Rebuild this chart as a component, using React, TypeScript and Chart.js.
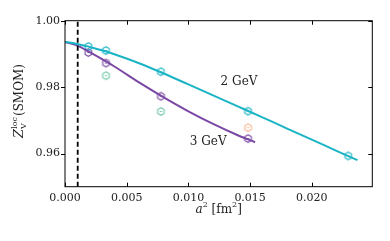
import React, { useEffect, useRef } from "react";
import { Chart, registerables } from "chart.js";

Chart.register(...registerables);

// a^2 values [fm^2]
const a2Values = [0.00189, 0.00332, 0.00777, 0.01483, 0.02295];
// Z_V at 2 GeV
const z2GeV = [0.99222, 0.99102, 0.98464, 0.97275, 0.95928];
// Z_V at 3 GeV
const a2ThreeGeV = [0.00189, 0.00332, 0.00777, 0.01483];
const z3GeV = [0.99042, 0.98725, 0.97725, 0.96449];
// other (lighter) points
const a2Green = [0.00332, 0.00777];
const zGreen = [0.98344, 0.97266];
const a2Orange = [0.01483];
const zOrange = [0.96778];
// fit curves
const fit2X = [0, 0.001, 0.002, 0.003, 0.004, 0.006, 0.008, 0.010, 0.012, 0.014, 0.016, 0.018, 0.020, 0.022, 0.0237];
const fit2Y = [0.9936, 0.9930, 0.9921, 0.9911, 0.9899, 0.9872, 0.9841, 0.9808, 0.9775, 0.9742, 0.9709, 0.9675, 0.9642, 0.9608, 0.9580];
const fit3X = [0, 0.001, 0.002, 0.004, 0.006, 0.008, 0.010, 0.012, 0.014, 0.0154];
const fit3Y = [0.9936, 0.9925, 0.9905, 0.9862, 0.9814, 0.9769, 0.9727, 0.9689, 0.9655, 0.9634];
// dashed vertical line
const dashedX = 0.00103;
// axes
const xTicks = [0, 0.005, 0.01, 0.015, 0.02];
const xTickLabels = ["0.000", "0.005", "0.010", "0.015", "0.020"];
const yTicks = [0.96, 0.98, 1.0];
const yTickLabels = ["0.96", "0.98", "1.00"];
const xMin = 0;
const xMax = 0.0249;
const yMin = 0.95;
const yMax = 1.0;
const labels = [
  { text: "2 GeV", x: 0.0141, y: 0.9815 },
  { text: "3 GeV", x: 0.0116, y: 0.9636 },
];

const CYAN = "#1ab4c5";
const PURPLE = "#7a48a4";
const GREEN = "#72c9a6";
const ORANGE = "#f9b593";
const SERIF = "'DejaVu Serif', 'Liberation Serif', serif";

function hexMarker(color: string): HTMLCanvasElement {
  const c = document.createElement("canvas");
  c.width = 11;
  c.height = 11;
  const ctx = c.getContext("2d")!;
  ctx.strokeStyle = color;
  ctx.lineWidth = 1.1;
  ctx.beginPath();
  const r = 3.8;
  for (let i = 0; i < 6; i++) {
    const ang = Math.PI / 2 + (i * Math.PI) / 3;
    const px = 5.5 + r * Math.cos(ang);
    const py = 5.5 - r * Math.sin(ang);
    if (i === 0) ctx.moveTo(px, py);
    else ctx.lineTo(px, py);
  }
  ctx.closePath();
  ctx.stroke();
  ctx.beginPath();
  ctx.moveTo(4.4, 5.5);
  ctx.lineTo(6.6, 5.5);
  ctx.stroke();
  return c;
}

function pts(xs: number[], ys: number[]) {
  return xs.map((x, i) => ({ x, y: ys[i] }));
}

export default function App() {
  const ref = useRef<HTMLCanvasElement>(null);
  useEffect(() => {
    document.body.style.margin = "0";
    const canvas = ref.current!;
    const decor = {
      id: "decor",
      afterDraw(chart: any) {
        const ctx = chart.ctx;
        const area = chart.chartArea;
        const xs = chart.scales.x;
        const ys = chart.scales.y;
        ctx.save();
        ctx.strokeStyle = "#000";
        ctx.lineWidth = 1;
        ctx.strokeRect(area.left, area.top, area.right - area.left, area.bottom - area.top);
        // ticks
        ctx.beginPath();
        xTicks.forEach((v) => {
          const px = Math.round(xs.getPixelForValue(v)) + 0.5;
          ctx.moveTo(px, area.bottom);
          ctx.lineTo(px, area.bottom - 4);
          ctx.moveTo(px, area.top);
          ctx.lineTo(px, area.top + 4);
        });
        yTicks.forEach((v) => {
          const py = Math.round(ys.getPixelForValue(v)) + 0.5;
          ctx.moveTo(area.left, py);
          ctx.lineTo(area.left - 4, py);
          ctx.moveTo(area.right, py);
          ctx.lineTo(area.right - 4, py);
        });
        ctx.stroke();
        // tick labels
        ctx.fillStyle = "#222";
        ctx.font = `11px ${SERIF}`;
        ctx.textAlign = "center";
        ctx.textBaseline = "top";
        xTicks.forEach((v, i) => {
          ctx.fillText(xTickLabels[i], xs.getPixelForValue(v), area.bottom + 6);
        });
        ctx.textAlign = "right";
        ctx.textBaseline = "middle";
        yTicks.forEach((v, i) => {
          ctx.fillText(yTickLabels[i], area.left - 5, ys.getPixelForValue(v));
        });
        // curve labels
        ctx.font = `12px ${SERIF}`;
        ctx.textAlign = "center";
        labels.forEach((l) => {
          ctx.fillText(l.text, xs.getPixelForValue(l.x), ys.getPixelForValue(l.y));
        });
        // x title: a^2 [fm^2]
        const cx = (area.left + area.right) / 2;
        const ty = 210;
        const parts: [string, string, number][] = [
          ["a", `italic 12px ${SERIF}`, 0],
          ["2", `8px ${SERIF}`, -5],
          [" [fm", `12px ${SERIF}`, 0],
          ["2", `8px ${SERIF}`, -5],
          ["]", `12px ${SERIF}`, 0],
        ];
        let total = 0;
        parts.forEach(([t, f]) => {
          ctx.font = f;
          total += ctx.measureText(t).width;
        });
        let x0 = cx - total / 2;
        ctx.textAlign = "left";
        parts.forEach(([t, f, dy]) => {
          ctx.font = f;
          ctx.fillText(t, x0, ty + dy);
          x0 += ctx.measureText(t).width;
        });
        // y title: Z_V^loc (SMOM)
        ctx.translate(20, 101);
        ctx.rotate(-Math.PI / 2);
        ctx.font = `italic 13px ${SERIF}`;
        const zw = ctx.measureText("Z").width;
        ctx.font = `8px ${SERIF}`;
        const locw = ctx.measureText("loc").width;
        ctx.font = `12px ${SERIF}`;
        const smw = ctx.measureText("(SMOM)").width;
        const tw = zw + locw + 1 + smw;
        let yx = -tw / 2;
        ctx.font = `italic 13px ${SERIF}`;
        ctx.fillText("Z", yx, 0);
        yx += zw;
        ctx.font = `8px ${SERIF}`;
        ctx.fillText("loc", yx, -5);
        ctx.fillText("V", yx, 4);
        yx += locw + 1;
        ctx.font = `12px ${SERIF}`;
        ctx.fillText("(SMOM)", yx, 0);
        ctx.restore();
      },
    };
    const chart = new Chart(canvas, {
      type: "scatter",
      data: {
        datasets: [
          {
            type: "line",
            data: [
              { x: dashedX, y: yMin },
              { x: dashedX, y: yMax },
            ],
            borderColor: "#000",
            borderWidth: 1.8,
            borderDash: [5, 3],
            pointRadius: 0,
            showLine: true,
          } as any,
          {
            type: "line",
            data: pts(fit2X, fit2Y),
            borderColor: CYAN,
            borderWidth: 2,
            pointRadius: 0,
            cubicInterpolationMode: "monotone",
          } as any,
          {
            type: "line",
            data: pts(fit3X, fit3Y),
            borderColor: PURPLE,
            borderWidth: 2,
            pointRadius: 0,
            cubicInterpolationMode: "monotone",
          } as any,
          {
            data: pts(a2Green, zGreen),
            pointStyle: hexMarker(GREEN),
          },
          {
            data: pts(a2Orange, zOrange),
            pointStyle: hexMarker(ORANGE),
          },
          {
            data: pts(a2Values, z2GeV),
            pointStyle: hexMarker(CYAN),
          },
          {
            data: pts(a2ThreeGeV, z3GeV),
            pointStyle: hexMarker(PURPLE),
          },
        ],
      },
      options: {
        animation: false,
        responsive: false,
        events: [],
        layout: { padding: { left: 65, right: 17.7, top: 20.7, bottom: 54.3 } },
        plugins: { legend: { display: false }, tooltip: { enabled: false } },
        scales: {
          x: {
            type: "linear",
            min: xMin,
            max: xMax,
            display: false,
          },
          y: {
            type: "linear",
            min: yMin,
            max: yMax,
            display: false,
          },
        },
      },
      plugins: [decor],
    });
    return () => chart.destroy();
  }, []);
  return (
    <div style={{ width: 390, height: 241 }}>
      <canvas ref={ref} width={390} height={241} />
    </div>
  );
}
